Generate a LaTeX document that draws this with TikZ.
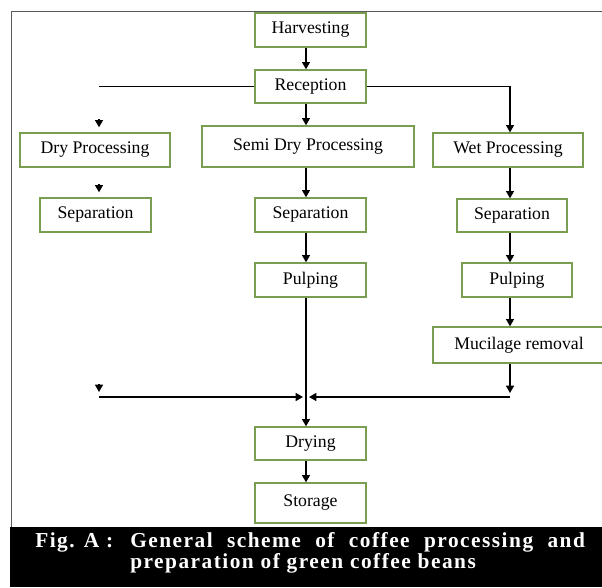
\documentclass[tikz,border=0pt]{standalone}
\usepackage{fontspec}
\setmainfont{Liberation Serif}
\newfontfamily\capfont[LetterSpace=7]{Liberation Serif}
\usetikzlibrary{arrows.meta}

\definecolor{boxgreen}{RGB}{122,158,80}
\definecolor{framegray}{RGB}{90,90,90}

\tikzstyle{gblock} = [rectangle, draw=boxgreen, line width=1pt, text centered, inner sep=0pt, minimum width=83.25pt, minimum height=25.5pt, font=\fontsize{13.3}{16}\selectfont]
\tikzstyle{arrow} = [line width=1pt,->,>={Triangle[width=6pt,length=5.5pt]}]
\tikzstyle{plainline} = [line width=0.8pt]
\tikzstyle{caption} = [text=white, inner sep=0pt, font=\capfont\bfseries\fontsize{16}{19}\selectfont]

\begin{document}
\begin{tikzpicture}[x=0.75pt, y=-0.75pt]
    \useasboundingbox (0,0) rectangle (602,587);
    % frame and caption band
    \draw [framegray, line width=0.75pt] (11,527) -- (11,11) -- (602,11);
    \fill [black] (10,527) rectangle (602,587);

    % columns
    \coordinate (drycol) at (99,0);
    \coordinate (midcol) at (306,0);
    \coordinate (wetcol) at (510,0);
    \coordinate (merge) at (306,397);

    \node (harv) [gblock] at (310.5,30) {Harvesting};
    \node (recep) [gblock, minimum height=24.75pt] at (310.5,86.5) {Reception};
    \node (drypro) [gblock, minimum width=112.5pt] at (95,150) {Dry Processing};
    \node (semipro) [gblock, minimum width=159pt, minimum height=30.75pt] at (308,146.5) {Semi Dry Processing};
    \node (wetpro) [gblock, minimum width=112.5pt] at (508,150) {Wet Processing};
    \node (drysep) [gblock] at (95.5,215) {Separation};
    \node (semisep) [gblock] at (310.5,215) {Separation};
    \node (wetsep) [gblock, minimum width=82.5pt, minimum height=24.75pt] at (512,215.5) {Separation};
    \node (semipulp) [gblock] at (310.5,280) {Pulping};
    \node (wetpulp) [gblock, minimum width=82.5pt] at (517,280) {Pulping};
    \node (mucil) [gblock, minimum width=129pt, minimum height=27pt] at (519,345) {Mucilage removal};
    \node (drying) [gblock, minimum height=24.75pt] at (310.5,443.5) {Drying};
    \node (storage) [gblock, minimum height=30pt] at (310.5,503) {Storage};

    \draw [arrow] (harv.south -| midcol) -- (recep.north -| midcol);
    \draw [plainline] (recep.west) -- (recep.west -| drycol);
    \draw [arrow] (recep.east) -| (wetpro.north -| wetcol);
    \draw [arrow] (recep.south -| midcol) -- (semipro.north -| midcol);

    \draw [arrow] (drypro.north -| drycol) ++(0,-13) -- ++(0,8);
    \draw [arrow] (drysep.north -| drycol) ++(0,-13) -- ++(0,8);
    \draw [arrow] (drycol |- merge) ++(0,-13) -- ++(0,8);

    \draw [arrow] (semipro.south -| midcol) -- (semisep.north -| midcol);
    \draw [arrow] (semisep.south -| midcol) -- (semipulp.north -| midcol);
    \draw [arrow] (semipulp.south -| midcol) -- (drying.north -| midcol);
    \draw [arrow] (drying.south -| midcol) -- (storage.north -| midcol);

    \draw [arrow] (wetpro.south -| wetcol) -- (wetsep.north -| wetcol);
    \draw [arrow] (wetsep.south -| wetcol) -- (wetpulp.north -| wetcol);
    \draw [arrow] (wetpulp.south -| wetcol) -- (mucil.north -| wetcol);
    \draw [arrow, shorten >=3pt] (mucil.south -| wetcol) -- (wetcol |- merge);

    \draw [arrow, shorten >=2.25pt] (drycol |- merge) -- (merge);
    \draw [arrow, shorten >=2.25pt] (wetcol |- merge) -- (merge);

    % caption
    \node (figtag) [caption, anchor=base west] at (35,547) {Fig. A :};
    \node (capone) [caption, anchor=base west] at (130,547) {\makebox[341pt][s]{General scheme of coffee processing and}};
    \node (captwo) [caption, anchor=base west] at (130,568) {preparation of green coffee beans};
\end{tikzpicture}
\end{document}
